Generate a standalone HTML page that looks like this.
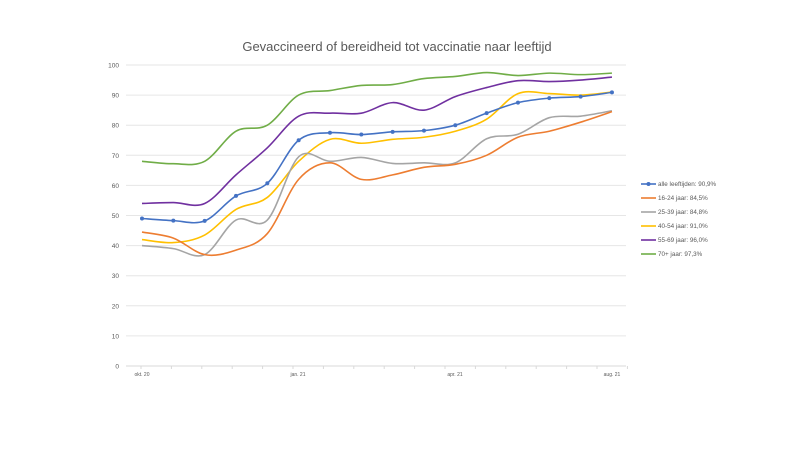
<!DOCTYPE html>
<html><head><meta charset="utf-8"><style>
html,body{margin:0;padding:0;background:#fff;width:800px;height:450px;overflow:hidden}
text{font-family:"Liberation Sans",sans-serif}
</style></head><body>
<svg id="c" width="800" height="450" xmlns="http://www.w3.org/2000/svg">
<rect width="800" height="450" fill="#fff"/>
<text x="397" y="51" text-anchor="middle" font-size="13" fill="#595959">Gevaccineerd of bereidheid tot vaccinatie naar leeftijd</text>
<g id="grid"></g><g id="series"></g><g id="legend"></g>
</svg>
<script>
const NS="http://www.w3.org/2000/svg";
function el(t,a,p){const e=document.createElementNS(NS,t);for(const k in a)e.setAttribute(k,a[k]);p.appendChild(e);return e;}
const g=document.getElementById('grid'),s=document.getElementById('series'),L=document.getElementById('legend');
const Y=v=>366-v*3.01;
for(let v=0;v<=100;v+=10){
 el('line',{x1:126,x2:612+14,y1:Y(v),y2:Y(v),stroke:v?'#e6e6e6':'#d9d9d9','stroke-width':1},g);
 const t=el('text',{x:119,y:Y(v)+2.5,'text-anchor':'end','font-size':6.5,fill:'#595959'},g);t.textContent=v;
}
for(let i=0;i<17;i++){const x=141+i*30.4;el('line',{x1:x,x2:x,y1:366,y2:369,stroke:'#d9d9d9'},g);}
[['okt. 20',142],['jan. 21',298],['apr. 21',455],['aug. 21',612]].forEach(([t,x])=>{const e=el('text',{x:x,y:376,'text-anchor':'middle','font-size':5,fill:'#595959'},g);e.textContent=t;});
const X=i=>142+i*31.33;
const data=[
['#70ad47',[68,67.2,68,78,80,90,91.5,93.2,93.5,95.5,96.2,97.5,96.5,97.3,96.8,97.3]],
['#7030a0',[54,54.3,54,63.5,72.5,83,84,84,87.5,85,89.5,92.5,94.8,94.5,95,96]],
['#ffc000',[42,41,43.5,52,56,68,75.3,74,75.3,76,78,82,90.5,90.5,90,91]],
['#a5a5a5',[40,39,37,48.5,48.5,69.5,68,69.3,67.3,67.5,67.5,75.5,77,82.5,83,84.8]],
['#ed7d31',[44.5,42.5,37,38.5,44,62,67.5,62,63.5,66,67,70,76,78,81,84.5]],
['#4472c4',[49,48.3,48.2,56.5,60.7,75,77.5,76.9,77.8,78.2,80,84,87.5,89,89.5,90.9]]];
data.forEach(([c,v],si)=>{
 const p=v.map((y,i)=>[X(i),Y(y)]);let d='M'+p[0];
 for(let i=0;i<p.length-1;i++){const p0=p[i-1]||p[i],p1=p[i],p2=p[i+1],p3=p[i+2]||p2,k=1/6;
  d+=`C${p1[0]+(p2[0]-p0[0])*k},${p1[1]+(p2[1]-p0[1])*k} ${p2[0]-(p3[0]-p1[0])*k},${p2[1]-(p3[1]-p1[1])*k} ${p2[0]},${p2[1]}`;}
 el('path',{d:d,fill:'none',stroke:c,'stroke-width':1.6},s);
 if(si==5)p.forEach(q=>el('circle',{cx:q[0],cy:q[1],r:2,fill:c},s));
});
const leg=[['#4472c4','alle leeftijden: 90,9%'],['#ed7d31','16-24 jaar: 84,5%'],['#a5a5a5','25-39 jaar: 84,8%'],['#ffc000','40-54 jaar: 91,0%'],['#7030a0','55-69 jaar: 96,0%'],['#70ad47','70+ jaar: 97,3%']];
leg.forEach(([c,t],i)=>{const y=184+i*14;el('line',{x1:641,x2:656,y1:y,y2:y,stroke:c,'stroke-width':1.6},L);
 if(!i)el('circle',{cx:648.5,cy:y,r:2,fill:c},L);
 const e=el('text',{x:658,y:y+2,'font-size':6.3,fill:'#595959'},L);e.textContent=t;});
</script>
</body></html>
